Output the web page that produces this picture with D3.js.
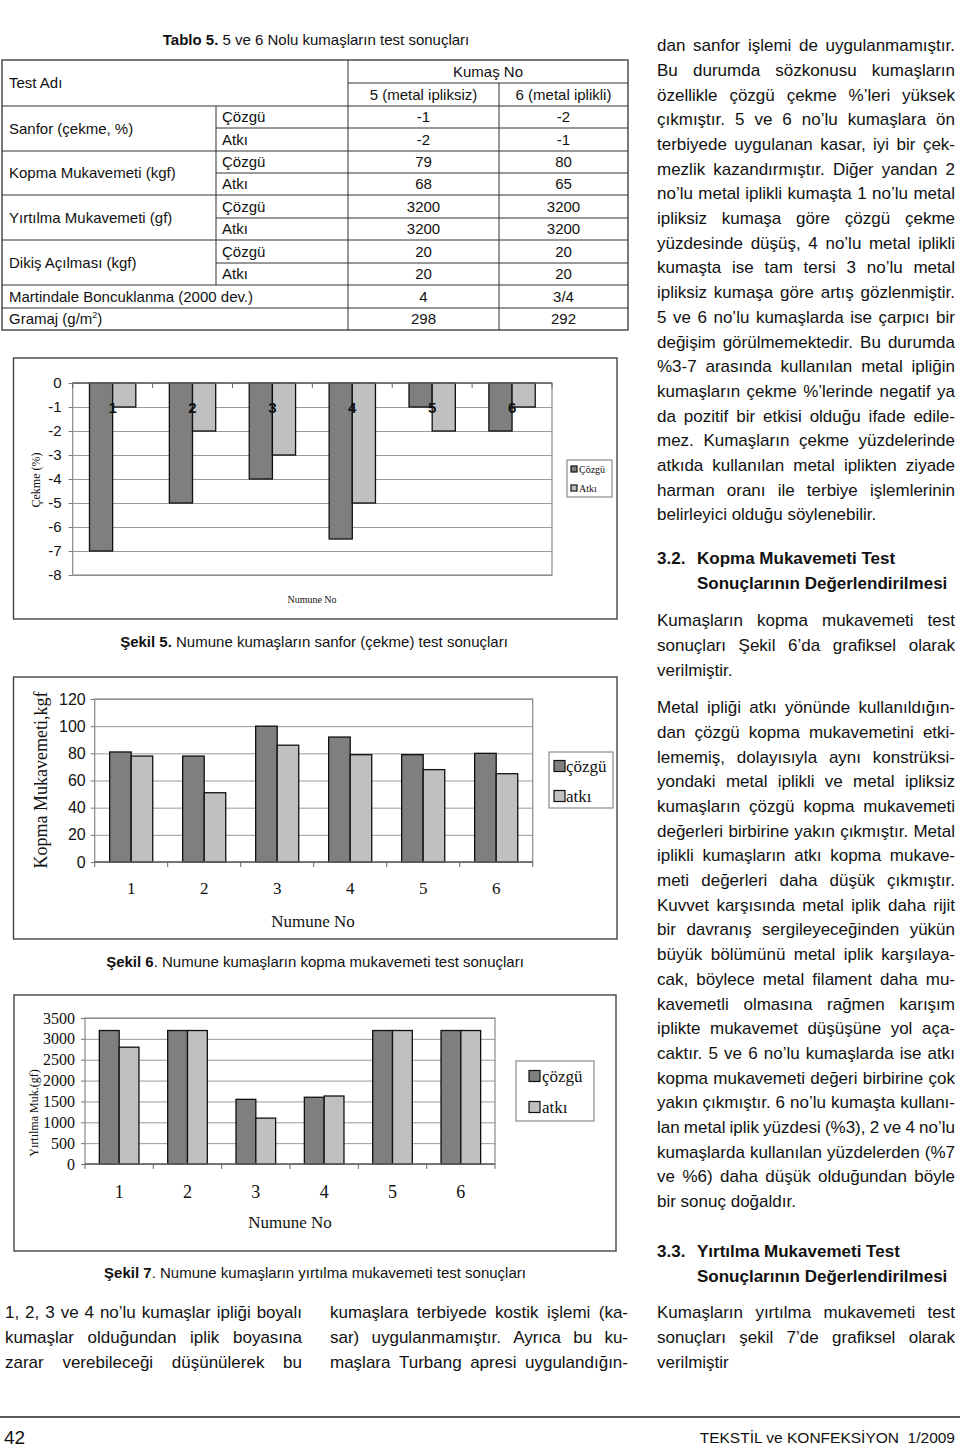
<!DOCTYPE html>
<html><head><meta charset="utf-8">
<script src="https://cdn.jsdelivr.net/npm/d3@7"></script>
<style>
html,body{margin:0;padding:0;background:#fff;}
svg{display:block;}
</style></head><body>
<svg id="page" width="960" height="1447"></svg>
<script>
// ---------------- DATA ----------------
const samples = ["1","2","3","4","5","6"];
const legend5 = ["Çözgü","Atkı"];
const legend67 = ["çözgü","atkı"];

const sanforCozgu = [-7,-5,-4,-6.5,-1,-2];
const sanforAtki  = [-1,-2,-3,-5,-2,-1];
const sanforTicks = [0,-1,-2,-3,-4,-5,-6,-7,-8];

const kopmaCozgu = [81,78,100,92,79,80];
const kopmaAtki  = [78,51,86,79,68,65];
const kopmaTicks = [0,20,40,60,80,100,120];

const yirtilmaCozgu = [3200,3200,1550,1600,3200,3200];
const yirtilmaAtki  = [2800,3200,1100,1630,3200,3200];
const yirtilmaTicks = [0,500,1000,1500,2000,2500,3000,3500];

const tableHead = ["Test Adı","Kumaş No","5 (metal ipliksiz)","6 (metal iplikli)"];
const tableGroups = [
  {name:"Sanfor (çekme, %)", rows:[["Çözgü","-1","-2"],["Atkı","-2","-1"]]},
  {name:"Kopma Mukavemeti (kgf)", rows:[["Çözgü","79","80"],["Atkı","68","65"]]},
  {name:"Yırtılma Mukavemeti (gf)", rows:[["Çözgü","3200","3200"],["Atkı","3200","3200"]]},
  {name:"Dikiş Açılması (kgf)", rows:[["Çözgü","20","20"],["Atkı","20","20"]]}
];
const tableSingles = [
  {name:"Martindale Boncuklanma (2000 dev.)", v5:"4", v6:"3/4"},
  {name:"Gramaj (g/m", sup:"2", tail:")", v5:"298", v6:"292"}
];

const para1 = [
"dan sanfor işlemi de uygulanmamıştır.",
"Bu durumda sözkonusu kumaşların",
"özellikle çözgü çekme %’leri yüksek",
"çıkmıştır. 5 ve 6 no’lu kumaşlara ön",
"terbiyede uygulanan kasar, iyi bir çek-",
"mezlik kazandırmıştır. Diğer yandan 2",
"no’lu metal iplikli kumaşta 1 no’lu metal",
"ipliksiz kumaşa göre çözgü çekme",
"yüzdesinde düşüş, 4 no’lu metal iplikli",
"kumaşta ise tam tersi 3 no’lu metal",
"ipliksiz kumaşa göre artış gözlenmiştir.",
"5 ve 6 no’lu kumaşlarda ise çarpıcı bir",
"değişim görülmemektedir. Bu durumda",
"%3-7 arasında kullanılan metal ipliğin",
"kumaşların çekme %’lerinde negatif ya",
"da pozitif bir etkisi olduğu ifade edile-",
"mez. Kumaşların çekme yüzdelerinde",
"atkıda kullanılan metal iplikten ziyade",
"harman oranı ile terbiye işlemlerinin",
"belirleyici olduğu söylenebilir."];
const head32 = ["3.2.","Kopma Mukavemeti Test","Sonuçlarının Değerlendirilmesi"];
const para2 = [
"Kumaşların kopma mukavemeti test",
"sonuçları Şekil 6’da grafiksel olarak",
"verilmiştir."];
const para3 = [
"Metal ipliği atkı yönünde kullanıldığın-",
"dan çözgü kopma mukavemetini etki-",
"lememiş, dolayısıyla aynı konstrüksi-",
"yondaki metal iplikli ve metal ipliksiz",
"kumaşların çözgü kopma mukavemeti",
"değerleri birbirine yakın çıkmıştır. Metal",
"iplikli kumaşların atkı kopma mukave-",
"meti değerleri daha düşük çıkmıştır.",
"Kuvvet karşısında metal iplik daha rijit",
"bir davranış sergileyeceğinden yükün",
"büyük bölümünü metal iplik karşılaya-",
"cak, böylece metal filament daha mu-",
"kavemetli olmasına rağmen karışım",
"iplikte mukavemet düşüşüne yol aça-",
"caktır. 5 ve 6 no’lu kumaşlarda ise atkı",
"kopma mukavemeti değeri birbirine çok",
"yakın çıkmıştır. 6 no’lu kumaşta kullanı-",
"lan metal iplik yüzdesi (%3), 2 ve 4 no’lu",
"kumaşlarda kullanılan yüzdelerden (%7",
"ve %6) daha düşük olduğundan böyle",
"bir sonuç doğaldır."];
const head33 = ["3.3.","Yırtılma Mukavemeti Test","Sonuçlarının Değerlendirilmesi"];
const para4 = [
"Kumaşların yırtılma mukavemeti test",
"sonuçları şekil 7’de grafiksel olarak",
"verilmiştir"];
const colA = [
"1, 2, 3 ve 4 no’lu kumaşlar ipliği boyalı",
"kumaşlar olduğundan iplik boyasına",
"zarar verebileceği düşünülerek bu"];
const colB = [
"kumaşlara terbiyede kostik işlemi (ka-",
"sar) uygulanmamıştır. Ayrıca bu ku-",
"maşlara Turbang apresi uygulandığın-"];

// ---------------- HELPERS ----------------
const SANS = "'Liberation Sans', Arial, sans-serif";
const SERIF = "'Liberation Serif', 'Times New Roman', serif";
const svg = d3.select("#page");
svg.append("rect").attr("width",960).attr("height",1447).attr("fill","#fff");

function txt(g, s, x, yc, o) {
  o = o || {};
  const size = o.size || 15;
  return g.append("text").attr("x", x).attr("y", yc + size*0.36)
    .attr("font-family", o.family || SANS).attr("font-size", size)
    .attr("font-weight", o.weight || "normal")
    .attr("text-anchor", o.anchor || "start").attr("fill", o.fill || "#111")
    .text(s);
}
function justLine(g, s, x, yc, w, o) {
  const words = s.split(" ");
  const nodes = words.map(wd => txt(g, wd, 0, yc, o));
  const widths = nodes.map(n => n.node().getComputedTextLength());
  const gap = words.length > 1 ? (w - d3.sum(widths)) / (words.length - 1) : 0;
  let cx = x;
  nodes.forEach((n, i) => { n.attr("x", cx); cx += widths[i] + gap; });
}
function para(g, lines, x, y0, w, lh, o, lastJustified) {
  lines.forEach((l, i) => {
    const y = y0 + i*lh;
    if (i === lines.length - 1 && !lastJustified) txt(g, l, x, y, o);
    else justLine(g, l, x, y, w, o);
  });
}

// ---------------- TABLE ----------------
const tg = svg.append("g");
const tt = tg.append("text").attr("x", 316).attr("y", 40 + 15*0.36).attr("text-anchor","middle")
  .attr("font-family", SANS).attr("font-size", 15).attr("fill","#111");
tt.append("tspan").attr("font-weight","bold").text("Tablo 5.");
tt.append("tspan").text(" 5 ve 6 Nolu kumaşların test sonuçları");

const TX = [2, 216, 348, 499, 628];
const rowY = [60, 83, 106, 128, 151, 173, 195, 218, 240, 263, 285, 308, 330];
const ln = (x1,y1,x2,y2,w) => tg.append("line").attr("x1",x1).attr("y1",y1).attr("x2",x2).attr("y2",y2)
  .attr("stroke","#333").attr("stroke-width", w||1);
tg.append("rect").attr("x",TX[0]).attr("y",rowY[0]).attr("width",TX[4]-TX[0]).attr("height",rowY[12]-rowY[0])
  .attr("fill","none").attr("stroke","#333").attr("stroke-width",1.3);
[106,151,195,240,285,308].forEach(y => ln(TX[0], y, TX[4], y));
[128,173,218,263].forEach(y => ln(TX[1], y, TX[4], y));
ln(TX[2], 83, TX[4], 83);
ln(TX[2], 60, TX[2], 330);
ln(TX[3], 83, TX[3], 330);
ln(TX[1], 106, TX[1], 285);
const TS = {size: 15};
txt(tg, tableHead[0], 9, 83, TS);
txt(tg, tableHead[1], (TX[2]+TX[4])/2, 71.5, {size:15, anchor:"middle"});
txt(tg, tableHead[2], (TX[2]+TX[3])/2, 94.5, {size:15, anchor:"middle"});
txt(tg, tableHead[3], (TX[3]+TX[4])/2, 94.5, {size:15, anchor:"middle"});
tableGroups.forEach((gr, gi) => {
  const top = rowY[2 + gi*2], mid = rowY[3 + gi*2], bot = rowY[4 + gi*2];
  txt(tg, gr.name, 9, (top+bot)/2, TS);
  gr.rows.forEach((r, ri) => {
    const yc = ri === 0 ? (top+mid)/2 : (mid+bot)/2;
    txt(tg, r[0], 222, yc, TS);
    txt(tg, r[1], (TX[2]+TX[3])/2, yc, {size:15, anchor:"middle"});
    txt(tg, r[2], (TX[3]+TX[4])/2, yc, {size:15, anchor:"middle"});
  });
});
tableSingles.forEach((r, i) => {
  const yc = (rowY[10+i] + rowY[11+i]) / 2;
  const t = txt(tg, r.name, 9, yc, TS);
  if (r.sup) {
    t.append("tspan").attr("font-size", 9).attr("dy", -6).text(r.sup);
    t.append("tspan").attr("dy", 6).text(r.tail);
  }
  txt(tg, r.v5, (TX[2]+TX[3])/2, yc, {size:15, anchor:"middle"});
  txt(tg, r.v6, (TX[3]+TX[4])/2, yc, {size:15, anchor:"middle"});
});

// ---------------- CHARTS ----------------
function drawChart(c) {
  const g = svg.append("g");
  g.append("rect").attr("x", c.frame[0]).attr("y", c.frame[1])
    .attr("width", c.frame[2]-c.frame[0]).attr("height", c.frame[3]-c.frame[1])
    .attr("fill","#fff").attr("stroke","#444").attr("stroke-width",1.4);
  const [px0, py0, px1, py1] = c.plot;
  const y = d3.scaleLinear().domain(c.domain).range([py1, py0]);
  const x = d3.scaleBand().domain(samples).range([px0, px1]).paddingInner(c.pad).paddingOuter(c.pad/2);
  const xi = d3.scaleBand().domain([0,1]).range([0, x.bandwidth()]);

  const ax = d3.axisLeft(y).tickValues(c.ticks).tickSize(-(px1-px0)).tickPadding(c.labelPad)
    .tickFormat(d => String(d));
  const ga = g.append("g").attr("transform", `translate(${px0},0)`).call(ax);
  ga.select(".domain").remove();
  ga.selectAll(".tick line").attr("stroke","#9a9a9a").attr("stroke-width",1);
  ga.selectAll(".tick text").attr("font-family", c.tickFamily).attr("font-size", c.tickSize).attr("fill","#111");
  const ga2 = g.append("g").attr("transform", `translate(${px0},0)`)
    .call(d3.axisLeft(y).tickValues(c.ticks).tickSize(4).tickFormat(""));
  ga2.select(".domain").remove();
  ga2.selectAll(".tick line").attr("stroke","#777");
  g.append("rect").attr("x", px0).attr("y", py0).attr("width", px1-px0).attr("height", py1-py0)
    .attr("fill","none").attr("stroke","#888").attr("stroke-width",1.2);

  const vals = [c.cozgu, c.atki];
  const fills = ["#7f7f7f", "#c0c0c0"];
  vals.forEach((arr, si) => {
    g.append("g").selectAll("rect").data(arr).join("rect")
      .attr("x", (d, i) => x(samples[i]) + xi(si))
      .attr("y", d => Math.min(y(0), y(d)))
      .attr("width", xi.bandwidth())
      .attr("height", d => Math.abs(y(d) - y(0)))
      .attr("fill", fills[si]).attr("stroke","#111").attr("stroke-width",1.3);
  });

  const y0 = y(0);
  g.append("line").attr("x1", px0).attr("x2", px1).attr("y1", y0).attr("y2", y0)
    .attr("stroke","#666").attr("stroke-width",1.3);
  d3.range(samples.length + 1).forEach(i => {
    const bx = x.range()[0] + i * x.step();
    g.append("line").attr("x1", bx).attr("x2", bx).attr("y1", y0).attr("y2", y0 + 5)
      .attr("stroke","#666").attr("stroke-width",1);
  });
  samples.forEach(s => txt(g, s, x(s) + x.bandwidth()/2, c.catY,
    {family: c.catFamily, size: c.catSize, anchor: "middle", weight: c.catWeight || "normal"}));

  g.append("text").attr("transform", `translate(${c.yTitle.x},${c.yTitle.y}) rotate(-90)`)
    .attr("text-anchor","middle").attr("dy","0.35em")
    .attr("font-family", SERIF).attr("font-size", c.yTitle.size).attr("fill","#111").text(c.yTitle.text);
  txt(g, "Numune No", c.xTitle.x, c.xTitle.y, {family: SERIF, size: c.xTitle.size, anchor:"middle"});

  const L = c.legend;
  g.append("rect").attr("x", L.box[0]).attr("y", L.box[1]).attr("width", L.box[2]-L.box[0])
    .attr("height", L.box[3]-L.box[1]).attr("fill","#fff").attr("stroke","#777").attr("stroke-width",1);
  c.legendLabels.forEach((lab, i) => {
    const yc = L.ys[i];
    g.append("rect").attr("x", L.sx).attr("y", yc - L.sw/2).attr("width", L.sw).attr("height", L.sw)
      .attr("fill", fills[i]).attr("stroke","#111").attr("stroke-width",1.2);
    txt(g, lab, L.tx, yc, {family: SERIF, size: L.size});
  });

  const ct = g.append("text").attr("x", c.caption.x).attr("y", c.caption.y + 15*0.36)
    .attr("text-anchor","middle").attr("font-family", SANS).attr("font-size", 15).attr("fill","#111");
  ct.append("tspan").attr("font-weight","bold").text(c.caption.bold);
  ct.append("tspan").text(c.caption.rest);
}

drawChart({
  frame: [13.5, 358, 617, 619],
  plot: [72.7, 383, 552, 575],
  domain: [-8, 0], ticks: sanforTicks, pad: 0.42,
  cozgu: sanforCozgu, atki: sanforAtki,
  tickFamily: SANS, tickSize: 15, labelPad: 11,
  catY: 408, catFamily: SANS, catSize: 15, catWeight: "bold",
  yTitle: {text: "Çekme (%)", x: 36, y: 480, size: 12},
  xTitle: {x: 312, y: 599, size: 10},
  legend: {box: [567, 460, 612, 497], ys: [469, 488], sx: 571, sw: 6, tx: 579, size: 10},
  legendLabels: legend5,
  caption: {x: 314, y: 642, bold: "Şekil 5.", rest: " Numune kumaşların sanfor (çekme) test sonuçları"}
});

drawChart({
  frame: [13.5, 677, 617, 939],
  plot: [94.7, 699, 532.7, 862],
  domain: [0, 120], ticks: kopmaTicks, pad: 0.41,
  cozgu: kopmaCozgu, atki: kopmaAtki,
  tickFamily: SANS, tickSize: 16, labelPad: 9,
  catY: 888, catFamily: SERIF, catSize: 17,
  yTitle: {text: "Kopma Mukavemeti,kgf", x: 41, y: 780, size: 18},
  xTitle: {x: 313, y: 921, size: 17},
  legend: {box: [549, 752, 613, 808], ys: [766, 796], sx: 554, sw: 11, tx: 566, size: 17},
  legendLabels: legend67,
  caption: {x: 315, y: 962, bold: "Şekil 6", rest: ". Numune kumaşların kopma mukavemeti test sonuçları"}
});

drawChart({
  frame: [14, 995, 616, 1251],
  plot: [85, 1018, 495, 1164],
  domain: [0, 3500], ticks: yirtilmaTicks, pad: 0.42,
  cozgu: yirtilmaCozgu, atki: yirtilmaAtki,
  tickFamily: SERIF, tickSize: 16, labelPad: 10,
  catY: 1192, catFamily: SERIF, catSize: 18,
  yTitle: {text: "Yırtılma Muk.(gf)", x: 33.5, y: 1113, size: 12},
  xTitle: {x: 290, y: 1222, size: 17},
  legend: {box: [516, 1061, 594, 1121], ys: [1076, 1107], sx: 529, sw: 11, tx: 542, size: 17},
  legendLabels: legend67,
  caption: {x: 315, y: 1273, bold: "Şekil 7", rest: ". Numune kumaşların yırtılma mukavemeti test sonuçları"}
});

// ---------------- TEXT COLUMNS ----------------
const tx = svg.append("g");
const BODY = {size: 17};
const LH = 24.7;
const RX = 657, RW = 298;
para(tx, para1, RX, 45, RW, LH, BODY);
txt(tx, head32[0], RX, 558, {size:17, weight:"bold"});
txt(tx, head32[1], 697, 558, {size:17, weight:"bold"});
txt(tx, head32[2], 697, 583, {size:17, weight:"bold"});
para(tx, para2, RX, 620, RW, LH, BODY);
para(tx, para3, RX, 707, RW, LH, BODY);
txt(tx, head33[0], RX, 1251, {size:17, weight:"bold"});
txt(tx, head33[1], 697, 1251, {size:17, weight:"bold"});
txt(tx, head33[2], 697, 1276, {size:17, weight:"bold"});
para(tx, para4, RX, 1312, RW, LH, BODY);
para(tx, colA, 5, 1312, 297, LH, BODY, true);
para(tx, colB, 330, 1312, 298, LH, BODY, true);

// footer
svg.append("line").attr("x1",0).attr("x2",960).attr("y1",1417).attr("y2",1417)
  .attr("stroke","#222").attr("stroke-width",1.5);
txt(svg, "42", 4, 1437, {size: 19});
txt(svg, "TEKSTİL ve KONFEKSİYON  1/2009", 955, 1437, {size: 15.5, anchor: "end"}).attr("xml:space","preserve");
</script>
</body></html>
